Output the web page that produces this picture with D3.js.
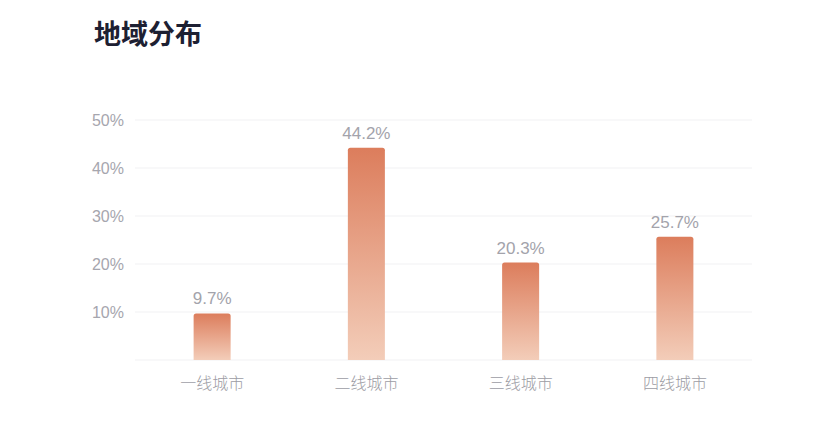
<!DOCTYPE html>
<meta charset="utf-8">
<style>
  body { margin: 0; background: #fff; }
  text { font-family: "Noto Sans CJK SC", "Noto Sans", sans-serif; }
</style>
<body>
<div id="chart"></div>
<script src="https://d3js.org/d3.v7.min.js"></script>
<script>
  const cities = ['一线城市', '二线城市', '三线城市', '四线城市'];
  const shares = [9.7, 44.2, 20.3, 25.7];
  const yTicks = [10, 20, 30, 40, 50];

  const width = 838, height = 428;
  const margin = {top: 120, right: 86, bottom: 68, left: 135};
  const numFont = '"Liberation Sans", Arial, sans-serif';

  const svg = d3.select('#chart').append('svg')
    .attr('width', width)
    .attr('height', height);

  // per-bar gradient, dark on top
  const grad = svg.append('defs').append('linearGradient')
    .attr('id', 'barFill')
    .attr('x1', 0).attr('y1', 0).attr('x2', 0).attr('y2', 1);
  grad.append('stop').attr('offset', '0%').attr('stop-color', '#dc7d5c');
  grad.append('stop').attr('offset', '100%').attr('stop-color', '#f3cdb9');

  svg.append('text')
    .attr('x', 94)
    .attr('y', 44)
    .attr('font-size', 27)
    .attr('font-weight', 'bold')
    .attr('fill', '#1d2032')
    .text('地域分布');

  const x = d3.scaleBand()
    .domain(cities)
    .range([margin.left, width - margin.right])
    .paddingInner(0.76)
    .paddingOuter(0.38);

  const y = d3.scaleLinear()
    .domain([0, 50])
    .range([height - margin.bottom, margin.top]);

  // grid lines
  svg.append('g')
    .selectAll('line')
    .data([0].concat(yTicks))
    .join('line')
    .attr('x1', margin.left)
    .attr('x2', width - margin.right)
    .attr('y1', d => y(d))
    .attr('y2', d => y(d))
    .attr('stroke', '#f1f1f3')
    .attr('stroke-width', 1);

  // y labels
  const yAxis = svg.append('g')
    .attr('transform', `translate(${margin.left - 8},0)`)
    .call(d3.axisLeft(y).tickValues(yTicks).tickSize(0).tickFormat(d => d + '%'));
  yAxis.select('.domain').remove();
  yAxis.selectAll('text')
    .attr('font-size', 16)
    .attr('fill', '#a6a6ae')
    .style('font-family', numFont);

  // x labels
  const xAxis = svg.append('g')
    .attr('transform', `translate(0,${height - margin.bottom + 15})`)
    .call(d3.axisBottom(x).tickSize(0));
  xAxis.select('.domain').remove();
  xAxis.selectAll('text')
    .attr('font-size', 16)
    .attr('font-weight', 300)
    .attr('fill', '#9c9ca4');

  // bars with rounded top corners
  const r = 2.5;
  svg.append('g')
    .selectAll('path')
    .data(shares)
    .join('path')
    .attr('fill', 'url(#barFill)')
    .attr('d', (d, i) => {
      const x0 = x(cities[i]), w = x.bandwidth();
      const top = y(d), bot = y(0);
      return `M${x0},${bot}V${top + r}Q${x0},${top} ${x0 + r},${top}` +
        `H${x0 + w - r}Q${x0 + w},${top} ${x0 + w},${top + r}V${bot}Z`;
    });

  // value labels
  svg.append('g')
    .selectAll('text')
    .data(shares)
    .join('text')
    .attr('x', (d, i) => x(cities[i]) + x.bandwidth() / 2)
    .attr('y', d => y(d) - 9)
    .attr('text-anchor', 'middle')
    .attr('font-size', 17)
    .attr('fill', '#a3a3ab')
    .style('font-family', numFont)
    .text(d => d.toFixed(1) + '%');
</script>
</body>
